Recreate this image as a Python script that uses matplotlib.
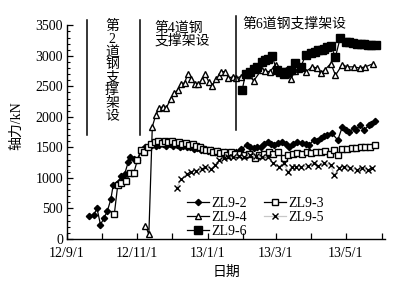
import numpy as np
import matplotlib
matplotlib.use("Agg")
import matplotlib.pyplot as plt
import matplotlib.dates as mdates
from matplotlib.ticker import FixedLocator, FuncFormatter

plt.rcParams["font.family"] = ["Liberation Serif", "Noto Sans CJK SC"]
plt.rcParams["font.size"] = 10

# ── datos ───────────────────────────────────────────────────────────────────
zl2_fecha = ["2012-09-20", "2012-09-24", "2012-09-27", "2012-09-30", "2012-10-03", "2012-10-06",
             "2012-10-09", "2012-10-11", "2012-10-14", "2012-10-16", "2012-10-18", "2012-10-20",
             "2012-10-21", "2012-10-24", "2012-10-26", "2012-10-29", "2012-11-01", "2012-11-05",
             "2012-11-08", "2012-11-11", "2012-11-14", "2012-11-17", "2012-11-20", "2012-11-23",
             "2012-11-26", "2012-11-29", "2012-12-02", "2012-12-05", "2012-12-08", "2012-12-11",
             "2012-12-14", "2012-12-17", "2012-12-20", "2012-12-23", "2012-12-26", "2012-12-29",
             "2013-01-01", "2013-01-04", "2013-01-07", "2013-01-10", "2013-01-13", "2013-01-16",
             "2013-01-19", "2013-01-22", "2013-01-26", "2013-01-30", "2013-02-04", "2013-02-07",
             "2013-02-10", "2013-02-13", "2013-02-16", "2013-02-19", "2013-02-22", "2013-02-25",
             "2013-02-28", "2013-03-03", "2013-03-07", "2013-03-10", "2013-03-13", "2013-03-16",
             "2013-03-20", "2013-03-24", "2013-03-27", "2013-03-30", "2013-04-03", "2013-04-06",
             "2013-04-09", "2013-04-12", "2013-04-15", "2013-04-19", "2013-04-24", "2013-04-28",
             "2013-05-01", "2013-05-04", "2013-05-08", "2013-05-10", "2013-05-13", "2013-05-17",
             "2013-05-21", "2013-05-23", "2013-05-26"]
zl2_val = [370, 390, 500, 235, 340, 460, 650, 880, 900, 940, 1040, 990, 1065, 1255, 1345, 1310,
           1290, 1460, 1510, 1530, 1545, 1520, 1540, 1560, 1530, 1550, 1525, 1540, 1515, 1530,
           1500, 1510, 1480, 1490, 1460, 1470, 1440, 1455, 1420, 1440, 1410, 1430, 1400, 1410,
           1430, 1470, 1540, 1510, 1485, 1500, 1510, 1560, 1590, 1560, 1540, 1570, 1590, 1550,
           1510, 1550, 1590, 1565, 1550, 1540, 1620, 1610, 1650, 1680, 1700, 1730, 1620, 1840,
           1790, 1760, 1810, 1780, 1865, 1785, 1865, 1890, 1930]

zl3_fecha = ["2012-10-12", "2012-10-15", "2012-10-18", "2012-10-22", "2012-10-26", "2012-10-29",
             "2012-11-01", "2012-11-04", "2012-11-07", "2012-11-10", "2012-11-13", "2012-11-16",
             "2012-11-19", "2012-11-22", "2012-11-25", "2012-11-28", "2012-12-01", "2012-12-04",
             "2012-12-07", "2012-12-10", "2012-12-13", "2012-12-16", "2012-12-19", "2012-12-22",
             "2012-12-25", "2012-12-28", "2012-12-31", "2013-01-03", "2013-01-06", "2013-01-09",
             "2013-01-12", "2013-01-15", "2013-01-18", "2013-01-21", "2013-01-25", "2013-01-29",
             "2013-02-02", "2013-02-06", "2013-02-11", "2013-02-15", "2013-02-19", "2013-02-23",
             "2013-02-27", "2013-03-03", "2013-03-08", "2013-03-12", "2013-03-16", "2013-03-20",
             "2013-03-24", "2013-03-28", "2013-04-01", "2013-04-05", "2013-04-09", "2013-04-13",
             "2013-04-17", "2013-04-21", "2013-04-24", "2013-04-28", "2013-05-02", "2013-05-06",
             "2013-05-10", "2013-05-14", "2013-05-18", "2013-05-22", "2013-05-26"]
zl3_val = [404, 885, 910, 950, 1075, 1085, 1290, 1460, 1430, 1500, 1560, 1590, 1600, 1580, 1610,
           1590, 1600, 1580, 1590, 1560, 1570, 1540, 1550, 1520, 1500, 1480, 1460, 1450, 1430,
           1440, 1410, 1420, 1380, 1420, 1390, 1400, 1380, 1400, 1320, 1380, 1400, 1420, 1400,
           1430, 1325, 1380, 1400, 1410, 1400, 1420, 1410, 1430, 1420, 1440, 1400, 1460, 1380,
           1470, 1480, 1490, 1495, 1500, 1510, 1515, 1535]

zl4_fecha = ["2012-11-08", "2012-11-11", "2012-11-14", "2012-11-17", "2012-11-20", "2012-11-23",
             "2012-11-26", "2012-11-30", "2012-12-03", "2012-12-06", "2012-12-09", "2012-12-12",
             "2012-12-15", "2012-12-18", "2012-12-21", "2012-12-24", "2012-12-27", "2012-12-30",
             "2013-01-02", "2013-01-05", "2013-01-08", "2013-01-11", "2013-01-13", "2013-01-16",
             "2013-01-19", "2013-01-23", "2013-01-26", "2013-01-30", "2013-02-03", "2013-02-06",
             "2013-02-10", "2013-02-17", "2013-02-20", "2013-02-24", "2013-03-01", "2013-03-05",
             "2013-03-10", "2013-03-14", "2013-03-18", "2013-03-21", "2013-03-27", "2013-04-02",
             "2013-04-06", "2013-04-09", "2013-04-13", "2013-04-18", "2013-04-22", "2013-04-28",
             "2013-05-02", "2013-05-08", "2013-05-13", "2013-05-18", "2013-05-25"]
zl4_val = [220, 75, 1840, 2030, 2140, 2165, 2140, 2300, 2385, 2440, 2535, 2560, 2710, 2615, 2535,
           2545, 2600, 2695, 2575, 2505, 2615, 2665, 2740, 2740, 2640, 2655, 2640, 2660, 2700,
           2680, 2590, 2776, 2754, 2738, 2858, 2776, 2776, 2613, 2754, 2792, 2738, 2820, 2800,
           2711, 2776, 2874, 2683, 2858, 2820, 2820, 2800, 2820, 2874]

zl5_fecha = ["2012-12-05", "2012-12-09", "2012-12-14", "2012-12-18", "2012-12-22", "2012-12-27",
             "2012-12-30", "2013-01-04", "2013-01-07", "2013-01-11", "2013-01-15", "2013-01-19",
             "2013-01-23", "2013-01-28", "2013-02-02", "2013-02-07", "2013-02-12", "2013-02-17",
             "2013-02-22", "2013-02-27", "2013-03-04", "2013-03-08", "2013-03-12", "2013-03-15",
             "2013-03-19", "2013-03-23", "2013-03-29", "2013-04-03", "2013-04-07", "2013-04-12",
             "2013-04-18", "2013-04-21", "2013-04-25", "2013-04-29", "2013-05-05", "2013-05-11",
             "2013-05-15", "2013-05-20", "2013-05-24"]
zl5_val = [830, 975, 1070, 1100, 1120, 1140, 1180, 1150, 1205, 1290, 1330, 1350, 1340, 1360, 1350,
           1370, 1360, 1350, 1340, 1240, 1185, 1240, 1100, 1185, 1185, 1185, 1190, 1240, 1190,
           1240, 1210, 1045, 1160, 1185, 1160, 1130, 1160, 1130, 1160]

zl6_fecha = ["2013-01-31", "2013-02-03", "2013-02-07", "2013-02-10", "2013-02-13", "2013-02-17",
             "2013-02-20", "2013-02-22", "2013-02-26", "2013-03-02", "2013-03-05", "2013-03-08",
             "2013-03-11", "2013-03-14", "2013-03-18", "2013-03-23", "2013-03-27", "2013-04-01",
             "2013-04-04", "2013-04-07", "2013-04-10", "2013-04-12", "2013-04-15", "2013-04-18",
             "2013-04-22", "2013-04-26", "2013-05-01", "2013-05-04", "2013-05-07", "2013-05-11",
             "2013-05-14", "2013-05-17", "2013-05-20", "2013-05-23", "2013-05-27"]
zl6_val = [2440, 2710, 2740, 2780, 2820, 2900, 2930, 2955, 2995, 2765, 2740, 2710, 2740, 2775,
           2875, 2820, 3010, 3050, 3070, 3090, 3100, 3120, 3140, 3155, 2985, 3285, 3230, 3220,
           3210, 3200, 3195, 3190, 3180, 3175, 3175]

series = [
    ("ZL9-2", zl2_fecha, zl2_val, dict(color="black", marker="D", ms=3.2, mfc="black")),
    ("ZL9-4", zl4_fecha, zl4_val, dict(color="black", marker="^", ms=4.2, mfc="white")),
    ("ZL9-6", zl6_fecha, zl6_val, dict(color="black", marker="s", ms=5.2, mfc="black")),
    ("ZL9-3", zl3_fecha, zl3_val, dict(color="black", marker="s", ms=4.2, mfc="white")),
    ("ZL9-5", zl5_fecha, zl5_val, dict(color="#c8c8c8", marker="x", ms=4.2, mec="black", mew=1.0)),
]

fig = plt.figure(figsize=(4.04, 2.82), dpi=100)
ax = fig.add_axes([0.166, 0.1525, 0.787, 0.801])

for nombre, fechas, vals, est in series:
    ax.plot(np.array(fechas, dtype="datetime64[D]"), vals, lw=0.9, label=nombre, **est)

# ── lineas de las etapas de construccion ────────────────────────────────────
for f, y0, y1 in [("2012-09-18", 1700, 3580), ("2012-11-03", 1700, 3580), ("2013-01-26", 1780, 3650)]:
    ax.plot([np.datetime64(f), np.datetime64(f)], [y0, y1], color="black", lw=1.1, clip_on=False)

ax.text(np.datetime64("2012-10-10"), 3590, "第\n2\n道\n钢\n支\n撑\n架\n设", ha="center", va="top",
        fontsize=10, linespacing=0.97)
ax.text(np.datetime64("2012-11-16"), 3560, "第4道钢\n支撑架设", ha="left", va="top",
        fontsize=10, linespacing=0.93)
ax.text(np.datetime64("2013-01-31"), 3630, "第6道钢支撑架设", ha="left", va="top", fontsize=10)

# ── ejes ────────────────────────────────────────────────────────────────────
ax.set_xlim(np.datetime64("2012-09-01"), np.datetime64("2013-06-04"))
ax.set_ylim(0, 3700)
ax.spines["top"].set_visible(False)
ax.spines["right"].set_visible(False)
ax.spines["left"].set_bounds(0, 3500)
ax.yaxis.set_major_locator(FixedLocator(np.arange(0, 3501, 500)))
ax.yaxis.set_minor_locator(FixedLocator(np.arange(0, 3501, 100)))
ax.xaxis.set_major_locator(mdates.MonthLocator())


def etiqueta(x, pos):
    d = mdates.num2date(x)
    if d.month % 2 == 0:
        return ""
    return f"{d.year % 100}/{d.month}/{d.day}"


ax.xaxis.set_major_formatter(FuncFormatter(etiqueta))
ax.tick_params(axis="both", which="major", direction="in", length=4, width=0.9, pad=3)
ax.tick_params(axis="x", which="major", pad=6)
ax.tick_params(axis="y", which="minor", direction="in", length=2.5, width=0.8)
for sp in ["left", "bottom"]:
    ax.spines[sp].set_linewidth(1.0)

ax.set_ylabel("轴力/kN", labelpad=9)
ax.set_xlabel("日期", labelpad=4)

ax.legend(loc="upper left", bbox_to_anchor=(0.4455, 0.325), bbox_transform=fig.transFigure,
          ncol=2, frameon=False, borderpad=0, handlelength=1.6, handletextpad=0.15,
          columnspacing=1.2, labelspacing=0.05, fontsize=10)

fig.savefig("out.png", dpi=100)
